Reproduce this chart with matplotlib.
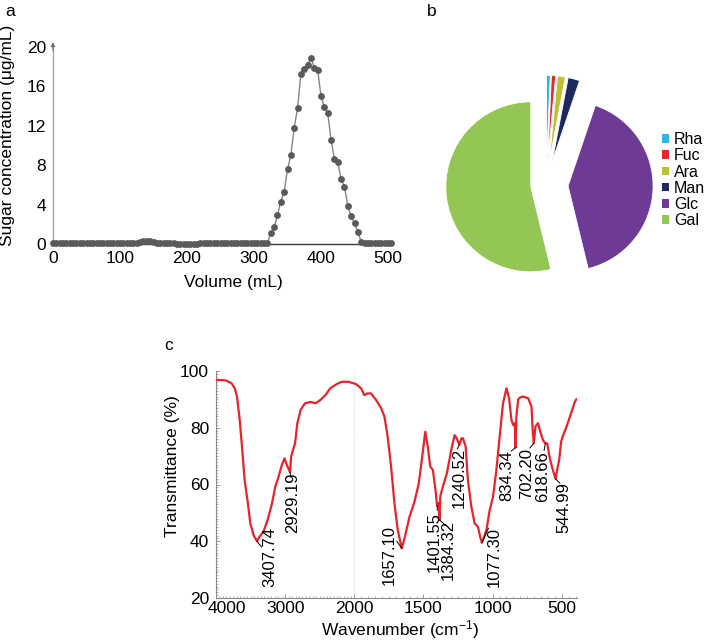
import numpy as np
import matplotlib
matplotlib.use("Agg")
import matplotlib.pyplot as plt
from matplotlib.patches import Patch
from matplotlib.ticker import FixedLocator, MultipleLocator
from matplotlib.transforms import ScaledTranslation

plt.rcParams['font.family'] = ['Liberation Sans', 'DejaVu Sans']
plt.rcParams['mathtext.default'] = 'regular'

# ---------------- Panel a data ----------------
volume_ml = [0, 5, 10, 15, 20, 25, 30, 35, 40, 45, 50, 55, 60, 65, 70, 75, 80, 85, 90, 95,
             100, 105, 110, 115, 120, 125, 130, 135, 140, 145, 150, 155, 160, 165, 170, 175,
             180, 185, 190, 195, 200, 205, 210, 215, 220, 225, 230, 235, 240, 245, 250, 255,
             260, 265, 270, 275, 280, 285, 290, 295, 300, 305, 310, 315, 320, 325, 330, 335,
             340, 345, 350, 355, 360, 365, 370, 375, 380, 385, 390, 395, 400, 405, 410, 415,
             420, 425, 430, 435, 440, 445, 450, 455, 460, 465, 470, 475, 480, 485, 490, 495,
             500, 505]
sugar_conc = [0.08, 0.08, 0.08, 0.08, 0.08, 0.08, 0.08, 0.08, 0.08, 0.08, 0.08, 0.08, 0.08,
              0.08, 0.08, 0.08, 0.08, 0.08, 0.08, 0.08, 0.08, 0.08, 0.08, 0.08, 0.08, 0.08,
              0.25, 0.32, 0.32, 0.30, 0.25, 0.15,
              0.08, 0.07, 0.06, 0.06, 0.06, 0.05, 0.05, 0.05, 0.05, 0.05, 0.05, 0.05, 0.06,
              0.06, 0.07, 0.07, 0.08, 0.08, 0.09, 0.09, 0.1, 0.1, 0.1, 0.1, 0.1, 0.1, 0.1,
              0.1, 0.1, 0.1, 0.1, 0.1, 0.1,
              1.1, 1.7, 2.9, 4.3, 5.3, 7.6, 9.0, 11.8, 13.8, 17.3, 17.8, 18.2, 18.9, 17.9,
              17.7, 15.0, 13.9, 13.3, 10.6, 8.6, 8.3, 6.6, 5.8, 3.9, 2.8, 2.1, 1.25, 0.2,
              0.12, 0.12, 0.12, 0.12, 0.12, 0.12, 0.12, 0.12, 0.12]
conc_ticks = [0, 4, 8, 12, 16, 20]
vol_ticks = [0, 100, 200, 300, 400, 500]

# ---------------- Panel b data ----------------
sugars = ['Rha', 'Fuc', 'Ara', 'Man', 'Glc', 'Gal']
sugar_pct = [0.7, 0.8, 1.5, 2.2, 41.0, 53.8]
sugar_colors = ['#2fb4e6', '#e8262b', '#bcc234', '#1d2a5e', '#6f3a95', '#93c655']
sugar_explode = [0.29, 0.29, 0.29, 0.29, 0.26, 0.18]

# ---------------- Panel c data ----------------
wavenumber = [4000, 3900, 3850, 3776, 3729, 3696, 3657, 3624, 3586, 3539, 3504, 3457,
              3407.74, 3371, 3314, 3253, 3190, 3143, 3096, 3047, 3010, 2976, 2929.19, 2914,
              2886, 2857, 2824, 2776, 2714, 2633, 2561, 2490, 2419, 2347, 2253, 2181, 2086,
              1988, 1951, 1927, 1904, 1879, 1843, 1806, 1782, 1759, 1734, 1710, 1686,
              1657.10, 1637, 1601, 1565, 1534, 1509, 1487, 1469, 1451, 1432, 1413, 1401.55,
              1392, 1384.32, 1378, 1360, 1331, 1299, 1275, 1262, 1240.52, 1225, 1215, 1195,
              1179, 1154, 1130, 1106, 1090, 1077.30, 1062, 1045, 1021, 997, 973, 949, 925,
              900, 881, 864, 852, 840, 834.34, 828, 815, 804, 780, 743, 719, 709, 702.20,
              690, 672, 655, 635, 618.66, 605, 590, 570, 544.99, 530, 519, 505, 494, 470,
              441, 420, 405, 395]
transmittance = [96.8, 96.8, 96.6, 95.7, 93.9, 91.0, 82.7, 73.3, 61.6, 53.4, 46.3, 42.2,
                 40.0, 41.6, 43.4, 47.5, 53.4, 59.2, 62.7, 66.9, 69.2, 66.9, 64.3, 69.8,
                 72.2, 74.5, 81.6, 86.3, 88.6, 89.1, 88.6, 89.8, 91.5, 93.9, 95.4, 96.2, 96.2,
                 95.4, 93.9, 91.5, 92.1, 92.1, 89.8, 86.9, 83.9, 76.9, 66.3, 53.4, 44.0,
                 37.5, 41.0, 48.6, 53.9, 60.4, 69.8, 78.6, 73.3, 66.3, 65.1, 58.1, 52.5,
                 53.5, 47.5, 56.0, 59.2, 63.9, 72.2, 77.4, 76.5, 74.0, 76.3, 76.3, 73.3,
                 61.6, 52.2, 46.3, 45.1, 41.5, 39.5, 41.5, 44.0, 51.0, 55.7, 65.1, 76.9, 88.6,
                 93.9, 90.4, 82.7, 81.0, 81.6, 73.0, 84.0, 90.0, 90.6, 91.0, 90.4, 87.4, 78.0,
                 74.5, 80.5, 81.6, 78.6, 75.5, 74.5, 74.5, 70.0, 66.0, 62.0, 66.0, 68.6, 75.0,
                 76.9, 79.8, 83.9, 87.0, 89.2, 90.0]
wn_ticks = [4000, 3000, 2000, 1500, 1000, 500]
t_ticks = [20, 40, 60, 80, 100]
peak_labels = ['3407.74', '2929.19', '1657.10', '1401.55', '1384.32', '1240.52',
               '1077.30', '834.34', '702.20', '618.66', '544.99']
peak_wn = [3407.74, 2929.19, 1657.10, 1401.55, 1384.32, 1240.52, 1077.30, 834.34,
           702.20, 618.66, 544.99]

# annotation layout (text centre x, text top y, leader end x, leader end y)
label_layout = [(3228, 45.0, 3343, 38.0), (2885, 64.1, 2918, 62.6),
                (1746, 45.7, 1693, 40.0), (1424, 50.3, 1400, 51.0),
                (1322, 47.5, 1342, 45.7), (1242, 72.9, 1255, 72.6),
                (985, 45.0, 1030, 44.6), (898, 72.2, 865, 71.8),
                (757, 72.9, 730, 72.9), (637, 71.6, 628, 72.0),
                (485, 61.0, 514, 60.5)]

FS = 12.5
AFS = 12
W, H = 709, 642
fig = plt.figure(figsize=(W / 100, H / 100), dpi=100)


def box(l, t, r, b):
    return [l / W, 1 - b / H, (r - l) / W, (b - t) / H]


# ---------------- Panel a ----------------
axA = fig.add_axes(box(53, 47, 388, 244))
axA.plot(volume_ml, sugar_conc, color='#858585', lw=1.0, marker='o', ms=3.9,
         mfc='#5a5a5a', mec='#5a5a5a', clip_on=False, zorder=3)
axA.set_xlim(0, 500)
axA.set_ylim(0, 20)
axA.set_xticks(vol_ticks)
axA.set_yticks(conc_ticks)
for s in ('top', 'right'):
    axA.spines[s].set_visible(False)
axA.spines['left'].set_color('#a8a8a8')
axA.spines['left'].set_linewidth(1.0)
axA.spines['bottom'].set_color('#3c3c3c')
axA.spines['bottom'].set_linewidth(1.0)
axA.tick_params(length=0, labelsize=FS, pad=5)
axA.annotate('', xy=(0, 20.5), xytext=(0, 19.6), annotation_clip=False,
             arrowprops=dict(arrowstyle='-|>', color='#707070', lw=0.8, mutation_scale=6,
                             shrinkA=0, shrinkB=0))
axA.set_ylabel('Sugar concentration (μg/mL)', fontsize=FS)
axA.yaxis.set_label_coords(-0.113, 0.55)
axA.set_xlabel('Volume (mL)', fontsize=FS)
axA.xaxis.set_label_coords(0.537, -0.155)
fig.text(10 / W, 1 - 12 / H, 'a', ha='center', va='center', fontsize=FS)

# ---------------- Panel b ----------------
R = 85
axB = fig.add_axes(box(546 - 1.45 * R, 185 - 1.45 * R, 546 + 1.45 * R, 185 + 1.45 * R))
axB.pie(sugar_pct, colors=sugar_colors, explode=sugar_explode, startangle=90,
        counterclock=False, radius=1,
        wedgeprops=dict(edgecolor='white', linewidth=0.6))
axB.set_xlim(-1.45, 1.45)
axB.set_ylim(-1.45, 1.45)
axB.set_aspect('equal')
axB.axis('off')
handles = [Patch(facecolor=c, edgecolor='none', label=n) for c, n in zip(sugar_colors, sugars)]
fig.legend(handles=handles, loc='upper left', bbox_to_anchor=(662 / W, 1 - 132 / H),
           frameon=False, fontsize=11.5, handlelength=0.45, handleheight=0.45,
           handletextpad=0.3, labelspacing=0.08, borderpad=0, borderaxespad=0)
fig.text(432 / W, 1 - 11 / H, 'b', ha='center', va='center', fontsize=FS)

# ---------------- Panel c ----------------


def fwd(v):
    v = np.asarray(v, dtype=float)
    return np.where(v <= 2000, v, 2000 + (v - 2000) / 2.0)


def inv(u):
    u = np.asarray(u, dtype=float)
    return np.where(u <= 2000, u, 2000 + (u - 2000) * 2.0)


axC = fig.add_axes(box(216, 371, 577, 598))
axC.set_xscale('function', functions=(fwd, inv))
axC.plot(wavenumber, transmittance, color='#e8232b', lw=1.6, zorder=3)
axC.set_xlim(4000, 390)
axC.set_ylim(20, 100)
axC.axvline(2000, color='#cfcfcf', lw=0.7, ls=':', zorder=1)
axC.xaxis.set_major_locator(FixedLocator(wn_ticks))
axC.xaxis.set_minor_locator(MultipleLocator(50))
axC.yaxis.set_major_locator(FixedLocator(t_ticks))
axC.yaxis.set_minor_locator(MultipleLocator(1))
axC.set_xticklabels([str(t) for t in wn_ticks])
for s in ('top', 'right'):
    axC.spines[s].set_visible(False)
for s in ('left', 'bottom'):
    axC.spines[s].set_color('#8a8a8a')
    axC.spines[s].set_linewidth(0.8)
axC.tick_params(which='major', length=3, width=0.6, color='#8a8a8a', direction='in',
                labelsize=FS)
axC.tick_params(axis='x', which='major', pad=2)
axC.tick_params(axis='y', which='major', pad=5)
axC.tick_params(which='minor', length=1.5, width=0.5, color='#9a9a9a', direction='in')
# nudge the 4000 label right as in the original
lbl = axC.get_xticklabels()[0]
lbl.set_transform(lbl.get_transform() + ScaledTranslation(0.11, 0, fig.dpi_scale_trans))

wn_sorted = np.asarray(wavenumber)[::-1]
t_sorted = np.asarray(transmittance)[::-1]
for lab, wn, (tx, ty, lx, ly) in zip(peak_labels, peak_wn, label_layout):
    dip_t = np.interp(wn, wn_sorted, t_sorted)
    axC.plot([wn, lx], [dip_t, ly], color='black', lw=0.7, zorder=4)
    axC.text(tx, ty, lab, rotation=90, ha='center', va='top', fontsize=AFS, zorder=5)

axC.set_ylabel('Transmittance (%)', fontsize=FS)
axC.yaxis.set_label_coords(-0.10, 0.58)
axC.set_xlabel('Wavenumber (cm$^{-1}$)', fontsize=FS)
axC.xaxis.set_label_coords(0.51, -0.088)
fig.text(169 / W, 1 - 345 / H, 'c', ha='center', va='center', fontsize=FS)

fig.savefig('out.png', dpi=100)
